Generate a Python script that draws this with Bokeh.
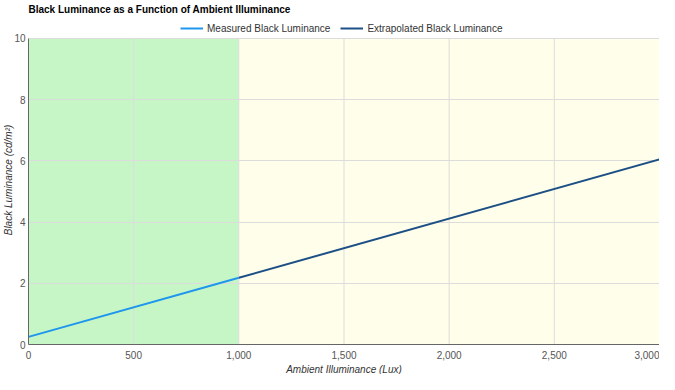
from bokeh.plotting import figure
from bokeh.models import Legend, LegendItem, NumeralTickFormatter, FixedTicker, Range1d, Title
from bokeh.embed import file_html
from bokeh.resources import INLINE

# Data
measured_x = [0, 1000]
measured_y = [0.25, 2.18]
extrap_x = [1000, 3000]
extrap_y = [2.18, 6.05]
zone_start = [0, 1000]
zone_end = [1000, 3000]
zone_colors = ["#c6f6c6", "#fefeea"]
x_ticks = [0, 500, 1000, 1500, 2000, 2500, 3000]
y_ticks = [0, 2, 4, 6, 8, 10]
y_min, y_max = 0, 10
x_label = "Ambient Illuminance (Lux)"
y_label = "Black Luminance (cd/m²)"

FONT = "Arial"

p = figure(width=659, height=374, output_backend="svg", toolbar_location=None,
           x_range=Range1d(0, 3000), y_range=Range1d(y_min, 10.75),
           min_border_left=0, min_border_right=0, min_border_top=0, min_border_bottom=0)

p.quad(left=zone_start, right=zone_end, bottom=y_min, top=y_max, fill_color=zone_colors,
       line_color=None, level="underlay")

# vertical grid lines only within the data area
p.segment(x0=x_ticks, x1=x_ticks, y0=y_min, y1=y_max, line_color="#dcdcdc", line_width=1)

r2 = p.line(extrap_x, extrap_y, line_color="#1c4f86", line_width=2)
r1 = p.line(measured_x, measured_y, line_color="#1e96ee", line_width=2)

p.title.text = "Black Luminance as a Function of Ambient Illuminance"
p.title.text_font = FONT
p.title.text_font_size = "10px"
p.title.text_font_style = "bold"
p.title.text_color = "#000000"
p.title.offset = 0
p.title.standoff = 2

legend = Legend(items=[LegendItem(label="Measured Black Luminance", renderers=[r1]),
                       LegendItem(label="Extrapolated Black Luminance", renderers=[r2])],
                orientation="horizontal", location=(152, 310),
                label_text_font=FONT, label_text_font_size="10px", label_text_color="#333333",
                glyph_width=23, glyph_height=10, label_standoff=4, spacing=10,
                padding=0, margin=0, border_line_color=None, background_fill_alpha=0,
                label_height=12)
p.add_layout(legend)

xt = Title(text=x_label, align="center", text_font=FONT, text_font_size="10px",
           text_font_style="italic", text_color="#333333", standoff=0, offset=0)
p.add_layout(xt, "below")

p.xaxis.ticker = FixedTicker(ticks=x_ticks)
p.yaxis.ticker = FixedTicker(ticks=y_ticks)
p.yaxis.bounds = (y_min, y_max)
p.xaxis.formatter = NumeralTickFormatter(format="0,0")
p.yaxis.axis_label = y_label
for ax in (p.xaxis, p.yaxis):
    ax.axis_label_text_font = FONT
    ax.axis_label_text_font_size = "10px"
    ax.axis_label_text_font_style = "italic"
    ax.axis_label_text_color = "#333333"
    ax.major_label_text_font = FONT
    ax.major_label_text_font_size = "10px"
    ax.major_label_text_color = "#555555"
    ax.major_tick_out = 0
    ax.major_tick_in = 0
    ax.minor_tick_out = 0
    ax.minor_tick_in = 0
    ax.axis_line_color = "#666666"
    ax.axis_line_width = 1
p.xaxis.major_label_standoff = 6
p.yaxis.major_label_standoff = 3
p.yaxis.axis_label_standoff = -3

p.xgrid.visible = False
p.ygrid.grid_line_color = "#dcdcdc"
p.outline_line_color = None
p.background_fill_color = "#ffffff"

open("out.html", "w").write(file_html(p, INLINE))
